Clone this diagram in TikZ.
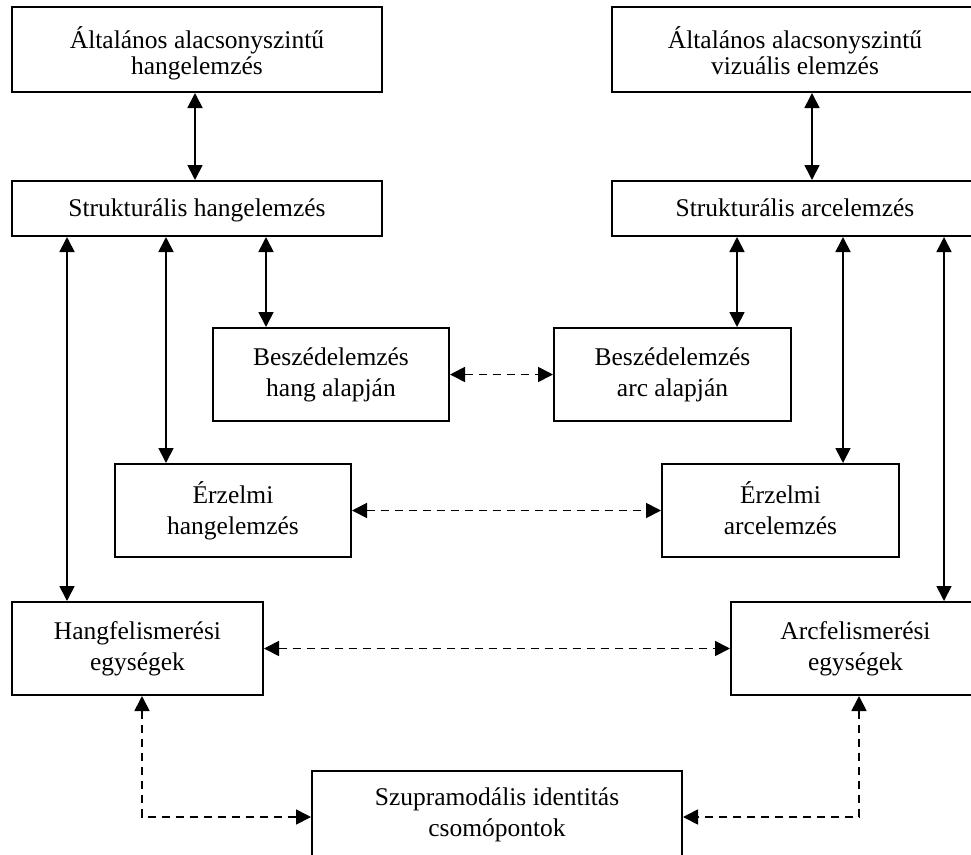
\documentclass[tikz,border=0pt]{standalone}
\usepackage{fontspec}
\setmainfont{Liberation Serif}
\usetikzlibrary{arrows.meta}
\begin{document}
\begin{tikzpicture}[x=1pt,y=-1pt,
  box/.style={draw, line width=2pt, inner sep=0pt, align=center, font=\fontsize{25.5}{31}\selectfont},
  onebox/.style={box, text height=20pt, text depth=5pt},
  topbox/.style={draw, line width=2pt, inner sep=0pt},
  toptext/.style={inner sep=0pt, align=center, font=\fontsize{25.5}{26}\selectfont},
  conn/.style={line width=1.7pt, {Triangle[length=15pt,width=15pt]}-{Triangle[length=15pt,width=15pt]}},
  dconn/.style={conn, dash pattern=on 8.5pt off 5.5pt}]
\useasboundingbox (0,0) rectangle (971,854);
\clip (0,0) rectangle (971,854);
\fill[white] (0,0) rectangle (971,854);

\node[topbox, minimum width=370pt, minimum height=85pt] (b1) at (197,49.5) {};
\node[toptext] (t1) at ([yshift=-4pt]b1.center) {Általános alacsonyszintű\\hangelemzés};
\node[topbox, minimum width=366pt, minimum height=85pt] (b2) at (795,49.5) {};
\node[toptext] (t2) at ([yshift=-4pt]b2.center) {Általános alacsonyszintű\\vizuális elemzés\vphantom{g}};
\node[onebox, minimum width=370pt, minimum height=55pt] (b3) at (197,208.5) {Strukturális hangelemzés};
\node[onebox, minimum width=366pt, minimum height=55pt] (b4) at (795,208.5) {Strukturális arcelemzés};
\node[box, minimum width=236pt, minimum height=93pt] (b5) at (331,374.5) {Beszédelemzés\\hang alapján};
\node[box, minimum width=237pt, minimum height=93pt] (b6) at (672.5,374.5) {Beszédelemzés\\arc alapján};
\node[box, minimum width=236pt, minimum height=93pt] (b7) at (233,510.5) {Érzelmi\\hangelemzés};
\node[box, minimum width=237pt, minimum height=93pt] (b8) at (780.5,510.5) {Érzelmi\\arcelemzés\vphantom{g}};
\node[box, minimum width=251pt, minimum height=93pt] (b9) at (137.5,648.5) {Hangfelismerési\\egységek};
\node[box, minimum width=249pt, minimum height=93pt] (b10) at (855.5,648.5) {Arcfelismerési\\egységek};
\node[box, minimum width=370pt, minimum height=87pt] (b11) at (497,814.5) {Szupramodális identitás\\csomópontok};

\coordinate (k1) at (195,0);
\coordinate (k2) at (812,0);
\coordinate (k3) at (67,0);
\coordinate (k4) at (166,0);
\coordinate (k5) at (266,0);
\coordinate (k6) at (737,0);
\coordinate (k7) at (843,0);
\coordinate (k8) at (944,0);
\coordinate (kl) at (142,0);
\coordinate (kr) at (859,0);
\coordinate (r) at (0,817);

\draw[conn] (b1.south -| k1) -- (b3.north -| k1);
\draw[conn] (b2.south -| k2) -- (b4.north -| k2);
\draw[conn] (b3.south -| k3) -- (b9.north -| k3);
\draw[conn] (b3.south -| k4) -- (b7.north -| k4);
\draw[conn] (b3.south -| k5) -- (b5.north -| k5);
\draw[conn] (b4.south -| k6) -- (b6.north -| k6);
\draw[conn] (b4.south -| k7) -- (b8.north -| k7);
\draw[conn] (b4.south -| k8) -- (b10.north -| k8);

\draw[dconn] (b5.east) -- (b6.west);
\draw[dconn] (b7.east) -- (b8.west);
\draw[dconn] (b9.east) -- (b10.west);
\draw[dconn] (b9.south -| kl) |- (b11.west |- r);
\draw[dconn] (b10.south -| kr) |- (b11.east |- r);
\end{tikzpicture}
\end{document}
